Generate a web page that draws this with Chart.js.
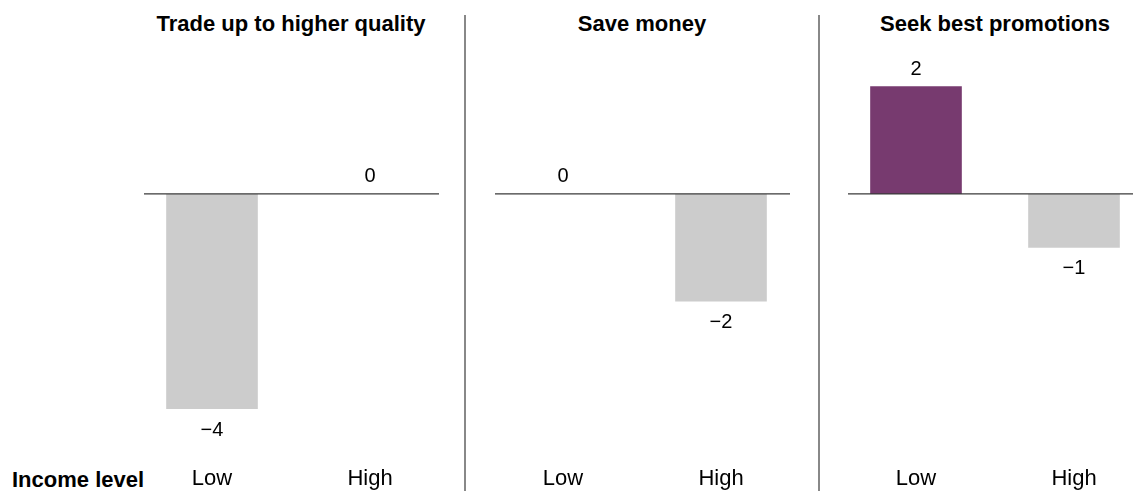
<!DOCTYPE html>
<html>
<head>
<meta charset="utf-8">
<script src="https://cdn.jsdelivr.net/npm/chart.js@4.4.1/dist/chart.umd.min.js"></script>
<style>
  html, body { margin: 0; padding: 0; background: #fff; overflow: hidden; width: 1133px; height: 491px; }
  body { position: relative; font-family: "Liberation Sans", Arial, Helvetica, sans-serif; color: #000; }
  .panel { position: absolute; top: 0; width: 316px; height: 491px; }
  .title { position: absolute; top: 11px; font-weight: bold; font-size: 22px; line-height: 26px; white-space: nowrap; transform: translateX(-50%); }
  .divider { position: absolute; top: 15px; bottom: 0; width: 2px; background: #888; }
  .rowlabel { position: absolute; left: 12px; top: 467px; font-weight: bold; font-size: 22px; line-height: 26px; white-space: nowrap; }
</style>
</head>
<body>
<div class="title" id="t0" style="left:291px"></div>
<div class="title" id="t1" style="left:642px"></div>
<div class="title" id="t2" style="left:995px"></div>
<div class="divider" style="left:464px"></div>
<div class="divider" style="left:818px"></div>
<div class="rowlabel" id="rowLabel"></div>
<div class="panel" style="left:133px"><canvas id="c0" width="316" height="491"></canvas></div>
<div class="panel" style="left:484px"><canvas id="c1" width="316" height="491"></canvas></div>
<div class="panel" style="left:837px"><canvas id="c2" width="316" height="491"></canvas></div>
<script>
// Categories and values for each panel
const incomeLevels = ['Low', 'High'];
const axisTitle = 'Income level';
const panelTitles = ['Trade up to higher quality', 'Save money', 'Seek best promotions'];
const tradeUpValues = [-4, 0];
const saveMoneyValues = [0, -2];
const promotionsValues = [2, -1];
const panelValues = [tradeUpValues, saveMoneyValues, promotionsValues];

const FONT = '"Liberation Sans", Arial, Helvetica, sans-serif';
const PURPLE = '#773a6f';
const GREY = '#cccccc';

document.getElementById('rowLabel').textContent = axisTitle;
panelTitles.forEach((t, i) => { document.getElementById('t' + i).textContent = t; });

// Baseline at zero, drawn on top of the bars
const zeroLine = {
  id: 'zeroLine',
  afterDatasetsDraw(chart) {
    const { ctx, chartArea } = chart;
    const y = chart.scales.y.getPixelForValue(0);
    ctx.save();
    ctx.strokeStyle = '#3a3a3a';
    ctx.lineWidth = 1.2;
    ctx.beginPath();
    ctx.moveTo(chartArea.left + 11, y);
    ctx.lineTo(chartArea.right - 10, y);
    ctx.stroke();
    ctx.restore();
  }
};

// Value labels above positive / zero bars, below negative ones
const valueLabels = {
  id: 'valueLabels',
  afterDatasetsDraw(chart) {
    const { ctx } = chart;
    const meta = chart.getDatasetMeta(0);
    const vals = chart.data.datasets[0].data;
    ctx.save();
    ctx.font = '20px ' + FONT;
    ctx.fillStyle = '#000';
    ctx.textAlign = 'center';
    ctx.textBaseline = 'middle';
    meta.data.forEach((bar, i) => {
      const v = vals[i];
      const txt = v < 0 ? '\u2212' + Math.abs(v) : String(v);
      const y = v < 0 ? bar.y + 21 : bar.y - 17;
      ctx.fillText(txt, bar.x, y);
    });
    ctx.restore();
  }
};

panelValues.forEach((vals, i) => {
  new Chart(document.getElementById('c' + i), {
    type: 'bar',
    data: {
      labels: incomeLevels,
      datasets: [{
        data: vals,
        backgroundColor: vals.map(v => (v > 0 ? PURPLE : GREY)),
        borderWidth: 0,
        barPercentage: 0.58,
        categoryPercentage: 1
      }]
    },
    options: {
      responsive: false,
      animation: false,
      layout: { padding: { top: 54, left: 0, right: 0, bottom: 0 } },
      plugins: { legend: { display: false }, tooltip: { enabled: false } },
      scales: {
        x: {
          type: 'category',
          offset: true,
          grid: { display: false, drawTicks: false },
          border: { display: false },
          ticks: { color: '#000', font: { family: FONT, size: 22 }, padding: 35, maxRotation: 0 },
          afterFit(scale) { scale.height = 60.4; }
        },
        y: {
          display: false,
          min: -4.4,
          max: 2.6
        }
      }
    },
    plugins: [zeroLine, valueLabels]
  });
});
</script>
</body>
</html>
